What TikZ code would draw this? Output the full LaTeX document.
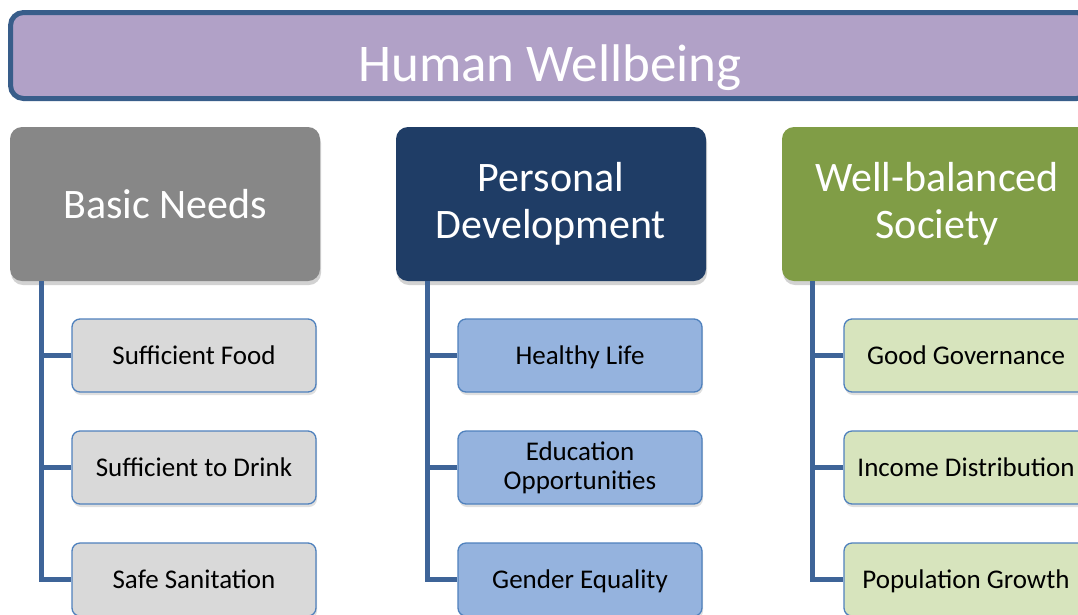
\documentclass[tikz,border=0pt]{standalone}
\usepackage{fontspec}
\setmainfont{Carlito}
\usetikzlibrary{shadows}
\definecolor{titlefill}{RGB}{177,161,199}
\definecolor{titleedge}{RGB}{56,93,138}
\definecolor{grayhead}{RGB}{135,135,135}
\definecolor{navyhead}{RGB}{31,61,102}
\definecolor{greenhead}{RGB}{128,157,70}
\definecolor{grayleaf}{RGB}{217,217,217}
\definecolor{blueleaf}{RGB}{149,179,222}
\definecolor{greenleaf}{RGB}{215,228,189}
\definecolor{leafedge}{RGB}{79,129,189}
\definecolor{connline}{RGB}{62,100,152}
\tikzset{
  titlebox/.style={draw=titleedge, line width=5pt, fill=titlefill, rounded corners=13pt,
    minimum width=1079pt, minimum height=86pt, inner sep=0pt},
  headbox/.style={fill=#1, rounded corners=12pt, minimum width=310pt, minimum height=154pt,
    inner sep=0pt, align=center, text=white, font=\fontsize{42}{47}\selectfont,
    drop shadow={shadow xshift=1pt, shadow yshift=-4pt, opacity=0.35}},
  leafbox/.style={fill=#1, draw=leafedge, line width=1.3pt, rounded corners=8pt,
    minimum width=244pt, minimum height=73pt, inner sep=0pt, align=center,
    font=\fontsize{27}{29}\selectfont,
    drop shadow={shadow xshift=1pt, shadow yshift=-3pt, opacity=0.25}},
  oneline/.style={text height=17.5pt, text depth=0pt},
  conn/.style={draw=connline, line width=5pt}
}
\begin{document}
\begin{tikzpicture}[x=1pt,y=-1pt]
\useasboundingbox (0,0) rectangle (1078,614);
\clip (0,0) rectangle (1078,614);
\fill[white] (0,0) rectangle (1078,614);

\node[titlebox] (title) at (550,55.5) {};
\node[font=\fontsize{53}{60}\selectfont, text=white, inner sep=0pt] (titletext) at ([yshift=-12pt]title.center) {Human Wellbeing};

% heads
\node[headbox=grayhead] (bn) at (165,204) {Basic Needs};
\node[headbox=navyhead] (pd) at (551,204) {Personal\\Development};
\node[headbox=greenhead] (ws) at (937,204) {Well-balanced\\Society};

% leaves
\node[leafbox=grayleaf, oneline] (bn1) at (194,355.5) {Sufficient Food};
\node[leafbox=grayleaf, oneline] (bn2) at (194,467.5) {Sufficient to Drink};
\node[leafbox=grayleaf, oneline] (bn3) at (194,579.5) {Safe Sanitation};
\node[leafbox=blueleaf, oneline] (pd1) at (580,355.5) {Healthy Life};
\node[leafbox=blueleaf] (pd2) at (580,467.5) {\raisebox{-2pt}{\parbox{240pt}{\centering Education\\Opportunities}}};
\node[leafbox=blueleaf, oneline] (pd3) at (580,579.5) {Gender Equality};
\node[leafbox=greenleaf, oneline] (ws1) at (966,355.5) {Good Governance};
\node[leafbox=greenleaf, oneline] (ws2) at (966,467.5) {Income Distribution};
\node[leafbox=greenleaf, oneline] (ws3) at (966,579.5) {Population Growth};

% connectors
\coordinate (bns) at ([xshift=32pt]bn.south west);
\coordinate (pds) at ([xshift=32pt]pd.south west);
\coordinate (wss) at ([xshift=31pt]ws.south west);
\draw[conn] (bns) |- (bn3.west);
\draw[conn] (bn1.west) -- (bn1.west -| bns);
\draw[conn] (bn2.west) -- (bn2.west -| bns);
\draw[conn] (pds) |- (pd3.west);
\draw[conn] (pd1.west) -- (pd1.west -| pds);
\draw[conn] (pd2.west) -- (pd2.west -| pds);
\draw[conn] (wss) |- (ws3.west);
\draw[conn] (ws1.west) -- (ws1.west -| wss);
\draw[conn] (ws2.west) -- (ws2.west -| wss);
\end{tikzpicture}
\end{document}
